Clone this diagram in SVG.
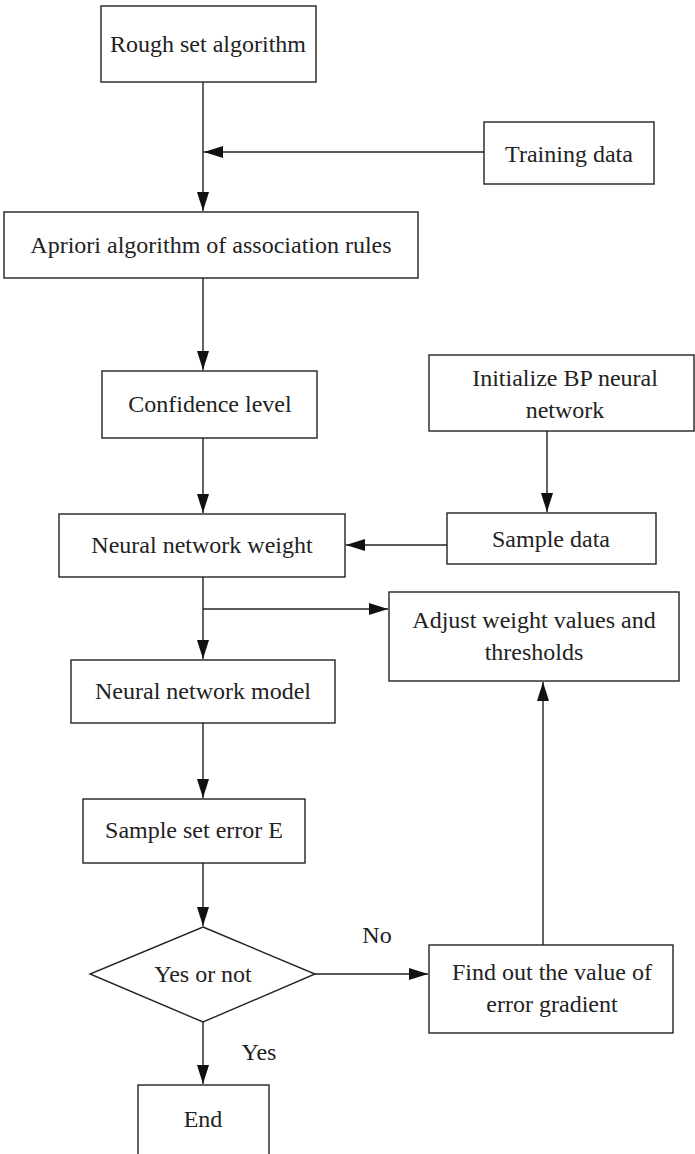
<svg xmlns="http://www.w3.org/2000/svg" width="695" height="1154" viewBox="0 0 695 1154">
<style>
.box{fill:#fff;stroke:#222;stroke-width:1.4}
.t{font-family:"Liberation Serif","Times New Roman",serif;font-size:24px;fill:#222;text-anchor:middle}
.c{fill:none;stroke:#222;stroke-width:1.4}
</style>
<defs>
<marker id="ah" markerUnits="userSpaceOnUse" markerWidth="20" markerHeight="12" refX="19" refY="6" orient="auto">
<path d="M0,0 L19,6 L0,12 z" fill="#111"/>
</marker>
</defs>
<rect width="695" height="1154" fill="#fff"/>
<g id="connectors">
<line class="c" x1="203" y1="82" x2="203" y2="211" marker-end="url(#ah)"/>
<line class="c" x1="484" y1="152" x2="204" y2="152" marker-end="url(#ah)"/>
<line class="c" x1="203" y1="278" x2="203" y2="370" marker-end="url(#ah)"/>
<line class="c" x1="203" y1="438" x2="203" y2="513" marker-end="url(#ah)"/>
<line class="c" x1="547" y1="431" x2="547" y2="512" marker-end="url(#ah)"/>
<line class="c" x1="447" y1="545" x2="346" y2="545" marker-end="url(#ah)"/>
<line class="c" x1="203" y1="577" x2="203" y2="659" marker-end="url(#ah)"/>
<line class="c" x1="203" y1="609" x2="388" y2="609" marker-end="url(#ah)"/>
<line class="c" x1="203" y1="723" x2="203" y2="798" marker-end="url(#ah)"/>
<line class="c" x1="203" y1="863" x2="203" y2="926" marker-end="url(#ah)"/>
<line class="c" x1="203" y1="1022" x2="203" y2="1084" marker-end="url(#ah)"/>
<line class="c" x1="315" y1="974" x2="428" y2="974" marker-end="url(#ah)"/>
<line class="c" x1="543" y1="945" x2="543" y2="682" marker-end="url(#ah)"/>
</g>
<g id="n-rough"><rect class="box" x="101" y="6" width="215" height="76"/><text class="t" x="208" y="52">Rough set algorithm</text></g>
<g id="n-training"><rect class="box" x="484" y="122" width="170" height="62"/><text class="t" x="569" y="162">Training data</text></g>
<g id="n-apriori"><rect class="box" x="4" y="212" width="414" height="66"/><text class="t" x="211" y="253">Apriori algorithm of association rules</text></g>
<g id="n-confidence"><rect class="box" x="102" y="371" width="215" height="67"/><text class="t" x="210" y="412">Confidence level</text></g>
<g id="n-init"><rect class="box" x="429" y="355" width="265" height="76"/><text class="t" x="565" y="386">Initialize BP neural</text><text class="t" x="565" y="418">network</text></g>
<g id="n-weight"><rect class="box" x="59" y="514" width="286" height="63"/><text class="t" x="202" y="553">Neural network weight</text></g>
<g id="n-sample"><rect class="box" x="447" y="513" width="209" height="51"/><text class="t" x="551" y="547">Sample data</text></g>
<g id="n-adjust"><rect class="box" x="389" y="592" width="290" height="89"/><text class="t" x="534" y="628">Adjust weight values and</text><text class="t" x="534" y="660">thresholds</text></g>
<g id="n-model"><rect class="box" x="71" y="660" width="264" height="63"/><text class="t" x="203" y="699">Neural network model</text></g>
<g id="n-error"><rect class="box" x="83" y="799" width="222" height="64"/><text class="t" x="194" y="838">Sample set error E</text></g>
<g id="n-decision"><polygon class="box" points="203,927 315,974 203,1022 90,974"/><text class="t" x="203" y="982">Yes or not</text></g>
<g id="n-gradient"><rect class="box" x="429" y="945" width="244" height="88"/><text class="t" x="552" y="980">Find out the value of</text><text class="t" x="552" y="1012">error gradient</text></g>
<g id="n-end"><rect class="box" x="138" y="1085" width="131" height="80"/><text class="t" x="203" y="1127">End</text></g>
<g id="labels"><text class="t" x="377" y="943">No</text><text class="t" x="259" y="1060">Yes</text></g>
</svg>
